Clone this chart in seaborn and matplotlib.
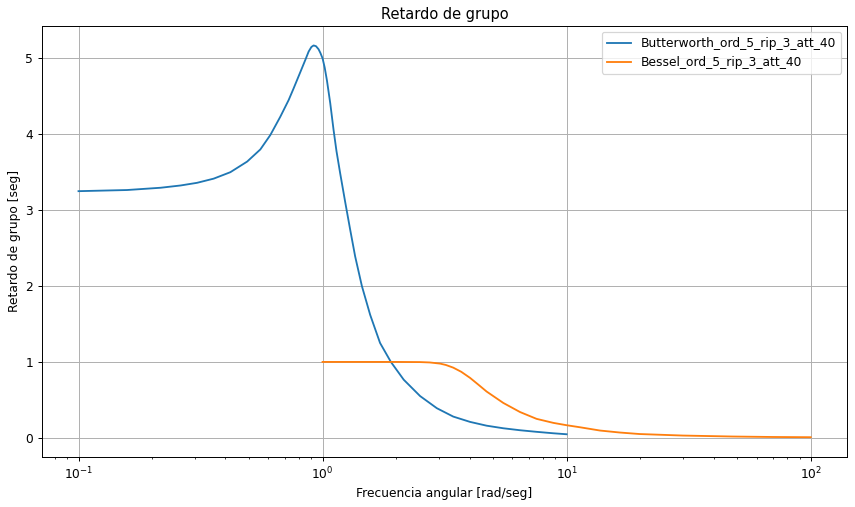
import pandas as pd
import matplotlib
matplotlib.use("Agg")
import matplotlib.pyplot as plt
import seaborn as sns

# Group delay values
butter_w = [0.1, 0.158, 0.217, 0.262, 0.306, 0.358, 0.419, 0.491, 0.556, 0.611,
            0.671, 0.726, 0.76, 0.811, 0.85, 0.877, 0.9, 0.919, 0.94, 0.963,
            0.98, 1.0, 1.02, 1.042, 1.075, 1.109, 1.14, 1.18, 1.239, 1.298,
            1.36, 1.449, 1.567, 1.72, 1.905, 2.15, 2.51, 2.94, 3.43, 4.02,
            4.7, 5.5, 6.44, 7.53, 8.82, 10.0]
butter_tau = [3.25, 3.265, 3.295, 3.325, 3.36, 3.415, 3.50, 3.64, 3.80, 3.99,
              4.23, 4.45, 4.60, 4.82, 4.98, 5.09, 5.15, 5.17, 5.16, 5.12,
              5.07, 5.0, 4.88, 4.71, 4.41, 4.06, 3.78, 3.49, 3.10, 2.74,
              2.39, 2.0, 1.62, 1.25, 1.0, 0.766, 0.55, 0.39, 0.28, 0.21,
              0.16, 0.126, 0.10, 0.079, 0.06, 0.047]

bessel_w = [1.0, 1.5, 2.0, 2.51, 2.75, 3.03, 3.2, 3.43, 3.7, 4.02, 4.35, 4.7,
            5.5, 6.44, 7.53, 8.82, 10.0, 11.3, 13.7, 16.5, 19.9, 29.9, 47.9,
            70.0, 100.0]
bessel_tau = [1.0, 1.0, 1.0, 0.998, 0.993, 0.978, 0.96, 0.925, 0.87, 0.79,
              0.70, 0.61, 0.46, 0.34, 0.25, 0.197, 0.166, 0.14, 0.096, 0.07,
              0.05, 0.03, 0.017, 0.011, 0.008]

labels = ["Butterworth_ord_5_rip_3_att_40", "Bessel_ord_5_rip_3_att_40"]

butter_df = pd.DataFrame({"w": butter_w, "tau": butter_tau})
bessel_df = pd.DataFrame({"w": bessel_w, "tau": bessel_tau})

fig, ax = plt.subplots(figsize=(855 / 88, 507 / 88), dpi=88)
sns.lineplot(data=butter_df, x="w", y="tau", ax=ax, color="C0", label=labels[0])
sns.lineplot(data=bessel_df, x="w", y="tau", ax=ax, color="C1", label=labels[1])

ax.set_xscale("log")
ax.grid(True)
ax.set_title("Retardo de grupo")
ax.set_xlabel("Frecuencia angular [rad/seg]")
ax.set_ylabel("Retardo de grupo [seg]")
ax.legend(loc="upper right")

plt.subplots_adjust(left=0.049, right=0.991, top=0.949, bottom=0.099)
plt.savefig("out.png", dpi=88)
